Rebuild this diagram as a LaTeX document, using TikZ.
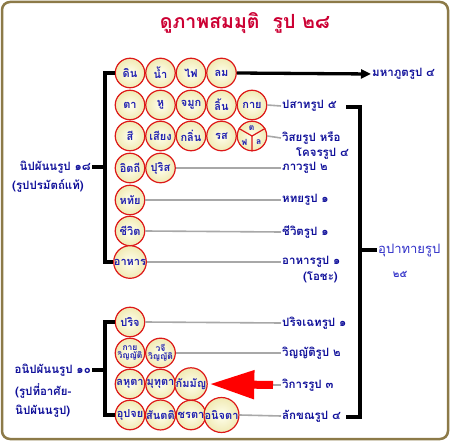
\documentclass[tikz,border=0pt]{standalone}
\usepackage{fontspec}
\newfontfamily\thai[Script=Thai]{Loma}
\usetikzlibrary{arrows.meta}
\definecolor{framec}{HTML}{8C7A48}
\definecolor{ttl}{HTML}{CC0033}
\definecolor{lblue}{HTML}{10109A}
\definecolor{ublue}{HTML}{3030C8}
\definecolor{cblue}{HTML}{2020B0}
\definecolor{ring}{HTML}{DD1818}
\definecolor{ballin}{HTML}{FFFFEE}
\definecolor{ballout}{HTML}{F0EAB4}
\definecolor{gl}{HTML}{A8A8A8}
\begin{document}
\begin{tikzpicture}[x=1pt,y=-1pt,
  ball/.style={circle,minimum size=29.5pt,inner sep=0pt,draw=ring,line width=1.2pt,
    inner color=ballin,outer color=ballout,text=cblue,
    font=\thai\bfseries\fontsize{11}{12}\selectfont},
  ballsmall/.style={ball,align=center,font=\thai\bfseries\fontsize{8.5}{8.5}\selectfont},
  tiny/.style={text=cblue,inner sep=0pt,font=\thai\bfseries\fontsize{8.5}{9}\selectfont},
  lbl/.style={anchor=west,inner sep=1pt,text=lblue,font=\thai\bfseries\fontsize{11.5}{13}\selectfont},
  gline/.style={draw=gl,line width=1.6pt},
  bline/.style={draw=black,line width=3.3pt},
  ttlstyle/.style={text=ttl,font=\thai\bfseries\fontsize{19.5}{21}\selectfont}]
\useasboundingbox (0,0) rectangle (450,441);
\draw[framec,line width=2.5pt,rounded corners=8pt] (2,2) rectangle (448,439);
\node[ttlstyle] (title) at (245,23) {ดูภาพสมมุติ\ \ รูป ๒๘};

% upper group circles
\node[ball] (din)  at (130,73) {ดิน};
\node[ball] (nam)  at (160.5,73) {น้ำ};
\node[ball] (fai)  at (191,73) {ไฟ};
\node[ball] (lom)  at (221.5,73) {ลม};
\node[ball] (ta)   at (130,105) {ตา};
\node[ball] (hu)   at (160.5,105) {หู};
\node[ball] (jamuk) at (191,105) {จมูก};
\node[ball] (lin)  at (221.5,105) {ลิ้น};
\node[ball] (kaay) at (252,105) {กาย};
\node[ball] (si)   at (130,136) {สี};
\node[ball] (siang) at (160.5,136) {เสียง};
\node[ball] (klin) at (191,136) {กลิ่น};
\node[ball] (rot)  at (221.5,136) {รส};
\node[ball] (split) at (252,136) {};
\draw[ring,line width=1.2pt] (split.center) -- (split.150) (split.center) -- (split.30) (split.center) -- (split.270);
\node[tiny] (to)  at (251.7,128) {ต};
\node[tiny] (fo)  at (244.3,142) {ฟ};
\node[tiny] (lo)  at (258.7,142) {ล};
\node[ball] (itthi) at (130,168) {อิตถี};
\node[ball] (purisa) at (160.5,168) {ปุริส};
\node[ball] (hatai) at (130,200) {หทัย};
\node[ball] (chiwit) at (130,231) {ชีวิต};
\node[ball] (ahar) at (130,262) {อาหาร};

% lower group circles
\node[ball] (parij) at (130,322) {ปริจ};
\node[ballsmall] (kvin) at (130,353) {กาย\\[-1pt]วิญญัติ};
\node[ballsmall] (vvin) at (160.5,353) {วจี\\[-1pt]วิญญัติ};
\node[ball] (lahu) at (130,384) {ลหุตา};
\node[ball] (mudu) at (160.5,384) {มุทุตา};
\node[ball] (kamma) at (191,384) {กัมมัญ};
\node[ball] (upaj) at (130,415) {อุปจย};
\node[ball] (santa) at (160.5,415) {สันตติ};
\node[ball] (chara) at (191,415) {ชรตา};
\node[ball] (anij) at (221.5,415) {อนิจตา};

% right labels
\node[lbl] (mahabhut) at (371,74) {มหาภูตรูป ๔};
\node[lbl] (pasat) at (281,106) {ปสาทรูป ๕};
\node[lbl] (visaya) at (281,138) {วิสยรูป หรือ};
\node[lbl,anchor=east] (khocara) at (350,154) {โคจรรูป ๔};
\node[lbl] (bhava) at (281,168) {ภาวรูป ๒};
\node[lbl] (hadaya) at (281,200) {หทยรูป ๑};
\node[lbl] (jivita) at (281,232) {ชีวิตรูป ๑};
\node[lbl] (ahara) at (281,262) {อาหารรูป ๑};
\node[lbl,anchor=east] (oja) at (339,277) {(โอชะ)};
\node[lbl] (pariccheda) at (281,323) {ปริจเฉทรูป ๑};
\node[lbl] (vinnatti) at (281,353) {วิญญัติรูป ๒};
\node[lbl] (vikara) at (281,385) {วิการรูป ๓};
\node[lbl] (lakkhana) at (281,416) {ลักขณรูป ๔};
\node[anchor=west,inner sep=1pt,text=ublue,font=\thai\fontsize{13}{14}\selectfont] (upada) at (377,250) {อุปาทายรูป};
\node[inner sep=1pt,text=ublue,font=\thai\bfseries\fontsize{10}{11}\selectfont] (n25) at (400,274) {๒๕};

% left labels
\node[lbl,anchor=east] (nip) at (92,167) {นิปผันนรูป ๑๘};
\node[lbl] (nip2) at (11,186) {(รูปปรมัตถ์แท้)};
\node[lbl,anchor=east] (anip) at (92,370) {อนิปผันนรูป ๑๐};
\node[lbl] (anip2) at (14,391) {(รูปที่อาศัย-};
\node[lbl] (anip3) at (14,411) {นิปผันนรูป)};

% brackets
\coordinate (ub) at (105,167);
\coordinate (lb) at (105,370);
\coordinate (rb) at (360,250);
\coordinate (rtop) at (346,107);
\coordinate (rbot) at (346,417);
\draw[bline] (din.west) -| (ub) |- (ahar.west);
\draw[bline] (nip.east) -- (ub);
\draw[bline] (parij.west) -| (lb) |- (upaj.west);
\draw[bline] (anip.east) -- (lb);
\draw[bline] (rtop) -| (rb) |- (rbot);
\draw[bline] (rb) -- (upada.west);
\draw[bline,-{Triangle[length=10pt,width=9pt]}] (lom.east) -- (mahabhut.west);

% gray connectors
\draw[gline] (kaay.east) -- (pasat.west);
\draw[gline] (split.east) -- (visaya.west);
\draw[gline] (purisa.east) -- (bhava.west);
\draw[gline] (hatai.east) -- (hadaya.west);
\draw[gline] (chiwit.east) -- (jivita.west);
\draw[gline] (ahar.east) -- (ahara.west);
\draw[gline] (parij.east) -- (pariccheda.west);
\draw[gline] (vvin.east) -- (vinnatti.west);
\draw[gline] (anij.east) -- (lakkhana.west);

% red arrow
\coordinate (rtail) at (273,385);
\draw[gline] (rtail) -- (vikara.west);
\draw[red,line width=8pt,-{Triangle[length=45pt,width=27pt]},shorten >=1.5pt] (rtail) -- (kamma.east);
\end{tikzpicture}
\end{document}
